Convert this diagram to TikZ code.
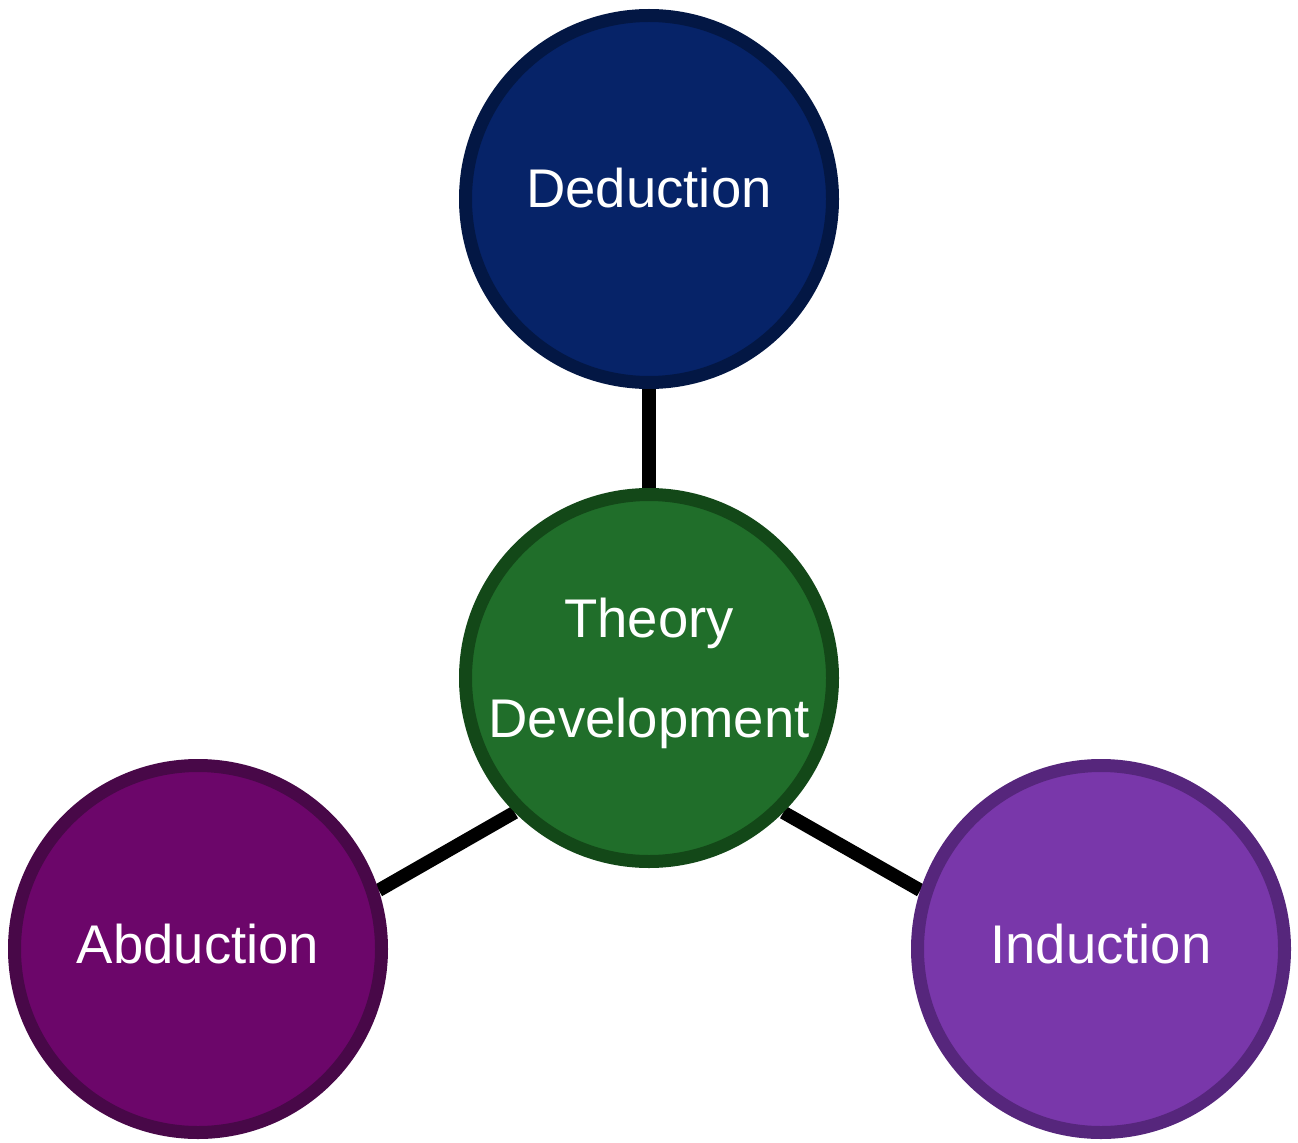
\documentclass[tikz,border=0pt]{standalone}
\usepackage{fontspec}
\setmainfont{Liberation Sans}
\usetikzlibrary{backgrounds}

\definecolor{dedfill}{RGB}{6,35,104}
\definecolor{dedline}{RGB}{3,23,68}
\definecolor{theofill}{RGB}{32,110,42}
\definecolor{theoline}{RGB}{19,72,24}
\definecolor{abdfill}{RGB}{108,6,106}
\definecolor{abdline}{RGB}{72,8,72}
\definecolor{indfill}{RGB}{121,55,170}
\definecolor{indline}{RGB}{86,38,124}

\begin{document}
\begin{tikzpicture}[
    stage/.style={circle, minimum size=7.34cm, inner sep=0pt, line width=0.26cm,
      text=white, align=center, font=\fontsize{31}{57}\selectfont},
    link/.style={line width=0.27cm, black}]
  \useasboundingbox (0,0) rectangle (25.96,-22.84);

  \node[stage, fill=dedfill, draw=dedline, text height=0.78cm, text depth=0.42cm]
    (ded) at (12.98,-3.98) {Deduction};
  \node[stage, fill=theofill, draw=theoline, text depth=0.42cm]
    (theo) at (12.98,-13.56) {Theory\\Development};
  \node[stage, fill=abdfill, draw=abdline, text height=0.78cm, text depth=0.22cm]
    (abd) at (3.96,-18.98) {Abduction};
  \node[stage, fill=indfill, draw=indline, text height=0.78cm, text depth=0.22cm]
    (ind) at (22.02,-18.98) {Induction};

  % links sit behind the circles
  \begin{scope}[on background layer]
    \draw[link] (ded.south) -- (theo.north);
    \draw[link] (theo.225) -- (abd.18);
    \draw[link] (theo.315) -- (ind.162);
  \end{scope}
\end{tikzpicture}
\end{document}
